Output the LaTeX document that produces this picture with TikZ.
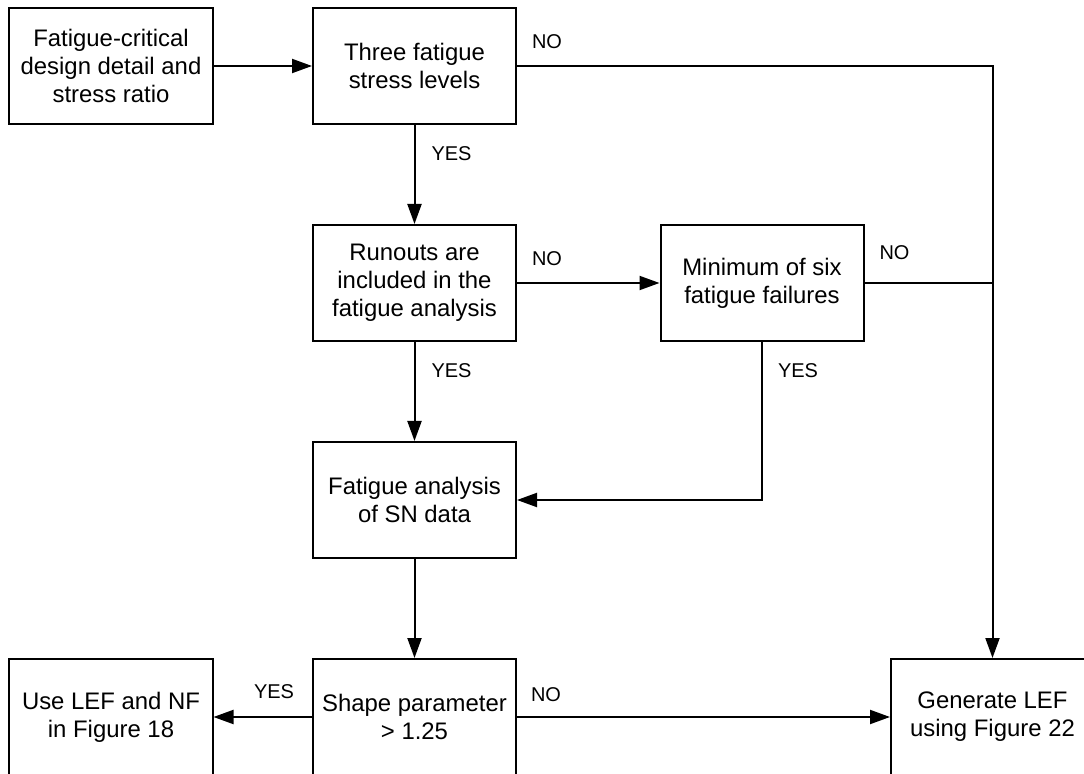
\documentclass[tikz,border=0pt]{standalone}
\usepackage{fontspec}
\setmainfont{Liberation Sans}
\usetikzlibrary{arrows.meta, positioning}
\tikzset{
    block/.style = {rectangle, draw, line width=0.05cm, minimum width=5.075cm, minimum height=2.9cm, align=center, font=\fontsize{17}{20}\selectfont},
    arrow/.style = {line width=0.05cm, -{Triangle[length=0.5cm, width=0.35cm]}},
    line/.style = {line width=0.05cm},
    answer/.style = {inner sep=0pt, font=\fontsize{14.2}{16}\selectfont}
}

\begin{document}
\begin{tikzpicture}[node distance = 5.425cm]
        \useasboundingbox (0,0) rectangle (27.1,-19.35);
        % Nodes
        \node [block] (detail) at (2.775,-1.65) {Fatigue-critical\\design detail and\\stress ratio};
        \node [block, right of=detail, node distance=7.5875cm] (levels) {Three fatigue\\stress levels};
        \node [block, below of=levels] (runouts) {Runouts are\\included in the\\fatigue analysis};
        \node [block, right of=runouts, node distance=8.6875cm] (failures) {Minimum of six\\fatigue failures};
        \node [block, below of=runouts] (analysis) {Fatigue analysis\\of SN data};
        \node [block, below of=analysis] (shape) {Shape parameter\\> 1.25};
        \node [block, left of=shape, node distance=7.5875cm] (useLEF) {Use LEF and NF\\in Figure 18};
        \node [block, right of=shape, node distance=14.45cm] (generate) {Generate LEF\\using Figure 22};
        \coordinate (join) at (failures.east -| generate.north);

        % Edges
        \draw [arrow] (detail) -- (levels);
        \draw [arrow] (levels) -| node[answer, at start, anchor=south west, xshift=0.35cm, yshift=0.4cm] {NO} (generate);
        \draw [arrow] (levels) -- node[answer, at start, anchor=north west, xshift=0.4cm, yshift=-0.525cm] {YES} (runouts);
        \draw [arrow] (runouts) -- node[answer, at start, anchor=south west, xshift=0.35cm, yshift=0.4cm] {NO} (failures);
        \draw [arrow] (runouts) -- node[answer, at start, anchor=north west, xshift=0.4cm, yshift=-0.525cm] {YES} (analysis);
        \draw [line] (failures) -- node[answer, at start, anchor=south west, xshift=0.35cm, yshift=0.55cm] {NO} (join);
        \draw [arrow] (failures) |- node[answer, at start, anchor=north west, xshift=0.375cm, yshift=-0.525cm] {YES} (analysis);
        \draw [arrow] (analysis) -- (shape);
        \draw [arrow] (shape) -- node[answer, at start, anchor=south east, xshift=-0.425cm, yshift=0.425cm] {YES} (useLEF);
        \draw [arrow] (shape) -- node[answer, at start, anchor=south west, xshift=0.325cm, yshift=0.35cm] {NO} (generate);
\end{tikzpicture}
\end{document}
